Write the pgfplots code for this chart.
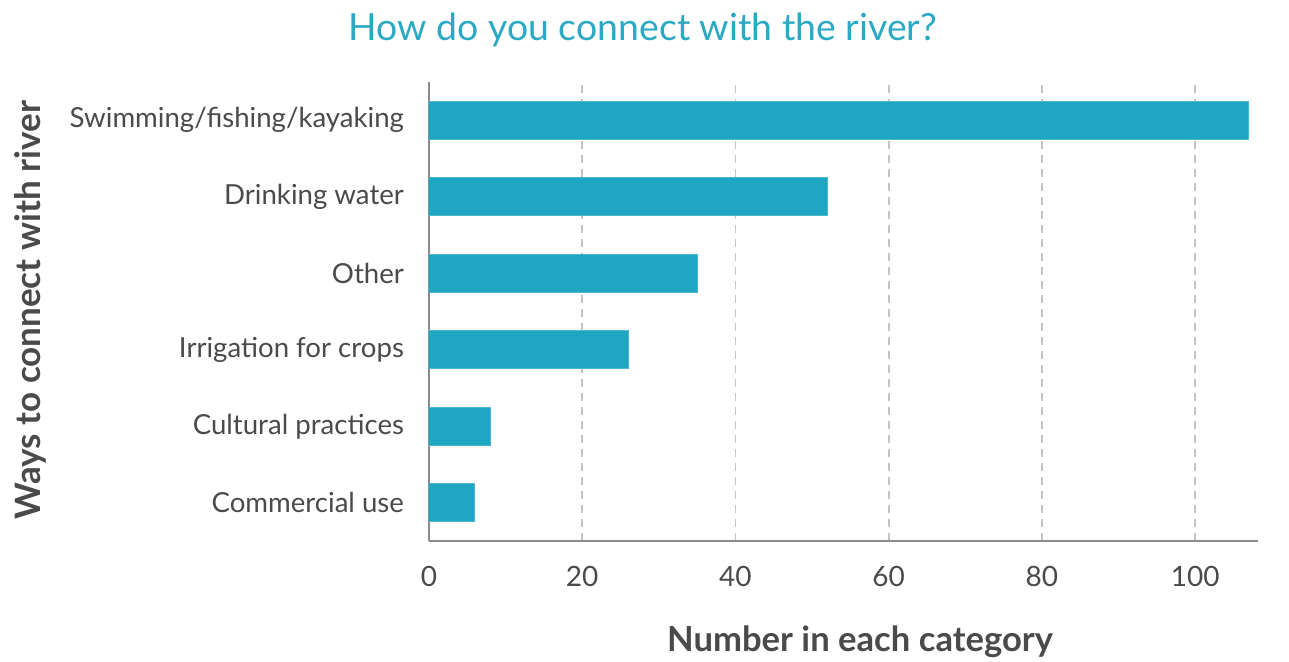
\documentclass[border=0pt]{standalone}
\usepackage{fontspec}
\setmainfont{Lato}
\usepackage{pgfplots}
\pgfplotsset{compat=1.18}

\definecolor{barblue}{HTML}{1EA6C2}
\definecolor{titleblue}{HTML}{2AA9C4}
\definecolor{txt}{HTML}{4A4A4A}
\definecolor{axgray}{HTML}{8C8C8C}
\definecolor{gridgray}{HTML}{C4C4C4}

\begin{document}
\begin{tikzpicture}[x=1pt,y=1pt]
\path[use as bounding box] (-214.5,-60) rectangle (430,270.5);

\begin{axis}[
  at={(0,0)}, anchor=south west,
  scale only axis,
  width=414.5pt, height=229.5pt,
  xbar, bar width=19pt,
  xmin=0, xmax=108.2,
  ymin=-0.5, ymax=5.5,
  axis lines=left,
  axis line style={axgray, line width=1pt, -},
  xtick={0,20,...,100},
  ytick={0,...,5},
  yticklabels={Commercial use, Cultural practices, Irrigation for crops, Other, Drinking water, Swimming/fishing/kayaking},
  major tick length=0pt,
  xmajorgrids,
  grid style={gridgray, dash pattern=on 4pt off 3pt, line width=0.8pt},
  xticklabel style={font=\fontsize{14}{17}\selectfont, text=txt, yshift=-9pt},
  yticklabel style={font=\fontsize{13.8}{17}\selectfont, text=txt, xshift=-9pt},
  /pgf/number format/assume math mode=true,
  xlabel={Number in each category},
  ylabel={Ways to connect with river},
  xlabel style={at={(axis description cs:0.52,-0.22)}, anchor=center, font=\bfseries\fontsize{17.3}{20}\selectfont, text=txt},
  ylabel style={at={(axis description cs:-0.481,0.503)}, anchor=center, rotate=0, font=\bfseries\fontsize{17.5}{20}\selectfont, text=txt},
]
\addplot[fill=barblue, draw=barblue!80!white, line width=0.5pt] coordinates {
  (6,0)
  (8,1)
  (26,2)
  (35,3)
  (52,4)
  (107,5)
};
\end{axis}

\node[text=titleblue, font=\fontsize{18.7}{22}\selectfont] at (107,255.5) {How do you connect with the river?};
\end{tikzpicture}
\end{document}
